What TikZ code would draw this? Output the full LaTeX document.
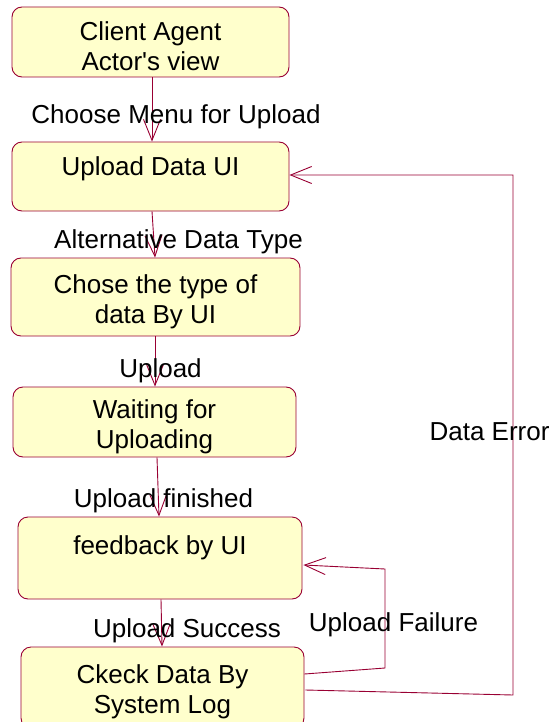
\documentclass[tikz,border=0pt]{standalone}
\usepackage{fontspec}
\setmainfont{Liberation Sans}
\usetikzlibrary{arrows.meta}
\definecolor{edge}{HTML}{990033}
\definecolor{boxfill}{HTML}{FFFFCC}
\tikzset{
  x=1pt, y=-1pt,
  statebox/.style={draw=edge, fill=boxfill, line width=0.9pt, rounded corners=10pt, inner sep=0pt},
  boxtext/.style={inner sep=0pt, align=center, font=\fontsize{26}{30}\selectfont, yshift=-4.5pt},
  lbl/.style={inner sep=0pt, font=\fontsize{26}{30}\selectfont, text height=0.72em, text depth=0.2em},
  conn/.style={draw=edge, line width=0.9pt, -{Straight Barb[length=21pt,width=17pt,line width=0.9pt]}}
}
\begin{document}
\begin{tikzpicture}
\useasboundingbox (0,0) rectangle (555,722);
\begin{scope}
\clip (0,0) rectangle (555,722);
\node[statebox, minimum width=277pt, minimum height=70pt,
  label={[boxtext]center:Client Agent\\Actor\textquotesingle s view}] (n1) at (150.5,42) {};
\node[statebox, minimum width=277pt, minimum height=69pt,
  label={[boxtext, yshift=12pt]center:Upload Data UI}] (n2) at (150.5,176.5) {};
\node[statebox, minimum width=289pt, minimum height=78pt,
  label={[boxtext]center:Chose the type of\\data By UI}] (n3) at (155.5,297) {};
\node[statebox, minimum width=283pt, minimum height=70pt,
  label={[boxtext]center:Waiting for\\Uploading}] (n4) at (154.5,422) {};
\node[statebox, minimum width=284pt, minimum height=82pt,
  label={[boxtext, yshift=15pt]center:feedback by UI}] (n5) at (160,558) {};
\node[statebox, minimum width=283pt, minimum height=81pt,
  label={[boxtext]center:Ckeck Data By\\System Log}] (n6) at (162.5,687.5) {};

\coordinate (f1) at (385,668);
\coordinate (f2) at (385,569);
\coordinate (e1) at (513,695);
\coordinate (e2) at (513,175);

\draw[conn] ([xshift=1.5pt]n1.south) -- ([xshift=1.5pt]n2.north);
\draw[conn] ([xshift=1.5pt]n2.south) -- ([xshift=-0.5pt]n3.north);
\draw[conn] ([xshift=-0.5pt]n3.south) -- ([xshift=0.5pt]n4.north);
\draw[conn] ([xshift=2.5pt]n4.south) -- ([xshift=-1pt]n5.north);
\draw[conn] ([xshift=1pt]n5.south) -- ([xshift=-0.5pt]n6.north);
\draw[conn] ([yshift=13.5pt]n6.east) -- (f1) -- (f2) -- ([yshift=-7pt,xshift=1pt]n5.east);
\draw[conn] ([yshift=-2.5pt,xshift=1pt]n6.east) -- (e1) -- (e2) -- ([yshift=1.5pt]n2.east);

\node[lbl] (l1) at (176,121) {Choose Menu for Upload};
\node[lbl] (l2) at (178.5,246) {Alternative Data Type};
\node[lbl] (l3) at (160.5,375) {Upload};
\node[lbl] (l4) at (163.5,505) {Upload finished};
\node[lbl] (l5) at (187,635) {Upload Success};
\node[lbl] (l6) at (393.5,629) {Upload Failure};
\node[lbl] (l7) at (489.5,438) {Data Error};
\end{scope}
\end{tikzpicture}
\end{document}
